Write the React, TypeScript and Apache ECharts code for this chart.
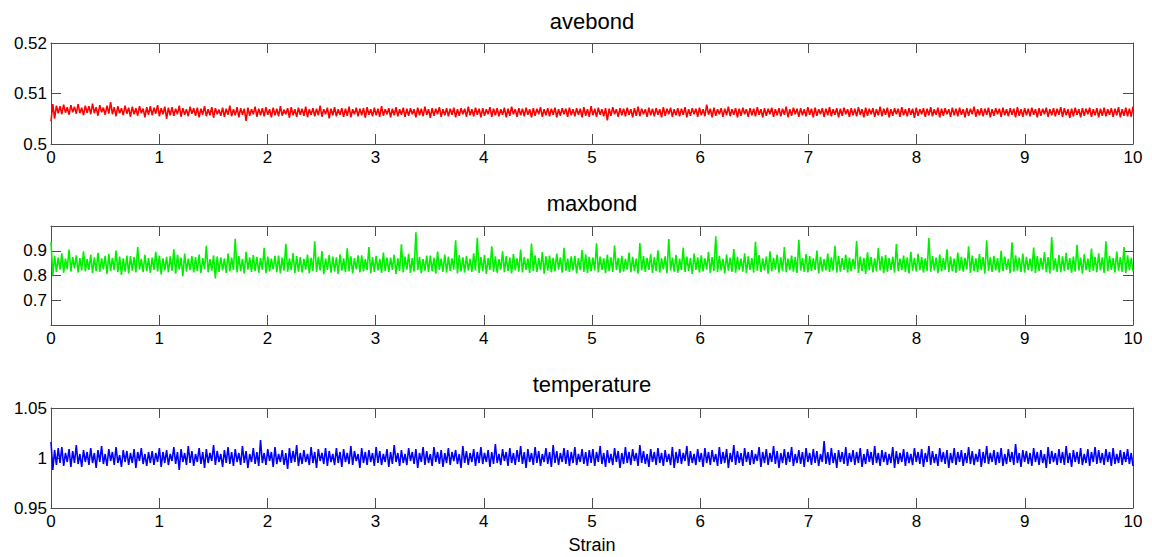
import React, { useEffect, useRef } from "react";
import * as echarts from "echarts";

const xTicks = [0, 1, 2, 3, 4, 5, 6, 7, 8, 9, 10];
const titles = ["avebond", "maxbond", "temperature"];
const xLabel = "Strain";

const avebond = [
  0.5045,0.5079,0.5050,0.5076,0.5061,0.5075,0.5059,0.5078,0.5062,0.5073,0.5058,0.5077,0.5063,0.5074,0.5060,0.5079,0.5061,0.5072,0.5057,0.5076,
  0.5062,0.5075,0.5059,0.5080,0.5061,0.5073,0.5056,0.5077,0.5063,0.5072,0.5058,0.5076,0.5060,0.5083,0.5059,0.5073,0.5055,0.5075,0.5061,0.5071,
  0.5057,0.5076,0.5060,0.5072,0.5054,0.5074,0.5059,0.5071,0.5056,0.5075,0.5061,0.5070,0.5053,0.5073,0.5058,0.5075,0.5057,0.5072,0.5060,0.5077,
  0.5055,0.5071,0.5059,0.5074,0.5050,0.5072,0.5057,0.5073,0.5056,0.5070,0.5059,0.5076,0.5054,0.5071,0.5058,0.5069,0.5055,0.5074,0.5060,0.5071,
  0.5056,0.5072,0.5053,0.5070,0.5058,0.5075,0.5055,0.5069,0.5057,0.5073,0.5052,0.5071,0.5059,0.5068,0.5056,0.5072,0.5054,0.5070,0.5058,0.5076,
  0.5055,0.5069,0.5057,0.5073,0.5053,0.5071,0.5058,0.5070,0.5046,0.5072,0.5056,0.5069,0.5059,0.5074,0.5054,0.5070,0.5057,0.5071,0.5055,0.5073,
  0.5058,0.5069,0.5053,0.5072,0.5057,0.5070,0.5055,0.5075,0.5056,0.5068,0.5059,0.5071,0.5052,0.5073,0.5057,0.5069,0.5054,0.5072,0.5058,0.5070,
  0.5056,0.5074,0.5053,0.5069,0.5058,0.5071,0.5055,0.5070,0.5057,0.5076,0.5054,0.5069,0.5059,0.5072,0.5051,0.5070,0.5057,0.5073,0.5055,0.5069,
  0.5058,0.5071,0.5054,0.5070,0.5056,0.5074,0.5053,0.5069,0.5059,0.5072,0.5055,0.5070,0.5057,0.5071,0.5052,0.5073,0.5058,0.5069,0.5055,0.5072,
  0.5057,0.5070,0.5054,0.5075,0.5056,0.5069,0.5059,0.5071,0.5053,0.5070,0.5057,0.5073,0.5055,0.5069,0.5058,0.5072,0.5054,0.5070,0.5056,0.5071,
  0.5059,0.5069,0.5053,0.5072,0.5057,0.5070,0.5055,0.5074,0.5058,0.5069,0.5052,0.5071,0.5056,0.5070,0.5059,0.5073,0.5054,0.5069,0.5057,0.5071,
  0.5055,0.5070,0.5058,0.5072,0.5053,0.5069,0.5056,0.5071,0.5059,0.5070,0.5054,0.5074,0.5057,0.5069,0.5055,0.5072,0.5058,0.5070,0.5053,0.5071,
  0.5056,0.5069,0.5059,0.5073,0.5054,0.5070,0.5057,0.5071,0.5055,0.5069,0.5058,0.5072,0.5053,0.5070,0.5056,0.5074,0.5059,0.5069,0.5054,0.5071,
  0.5057,0.5070,0.5055,0.5072,0.5058,0.5069,0.5053,0.5071,0.5056,0.5070,0.5059,0.5073,0.5054,0.5069,0.5057,0.5071,0.5055,0.5070,0.5058,0.5072,
  0.5053,0.5069,0.5056,0.5071,0.5059,0.5070,0.5054,0.5072,0.5057,0.5069,0.5055,0.5071,0.5058,0.5070,0.5053,0.5073,0.5056,0.5069,0.5054,0.5075,
  0.5057,0.5070,0.5054,0.5072,0.5058,0.5069,0.5055,0.5071,0.5047,0.5070,0.5056,0.5073,0.5059,0.5069,0.5054,0.5071,0.5057,0.5070,0.5055,0.5072,
  0.5058,0.5069,0.5053,0.5071,0.5056,0.5074,0.5055,0.5070,0.5059,0.5069,0.5054,0.5072,0.5057,0.5070,0.5055,0.5071,0.5058,0.5069,0.5053,0.5073,
  0.5056,0.5070,0.5059,0.5072,0.5054,0.5069,0.5057,0.5071,0.5055,0.5070,0.5058,0.5073,0.5053,0.5069,0.5056,0.5071,0.5059,0.5070,0.5054,0.5072,
  0.5057,0.5069,0.5055,0.5078,0.5058,0.5070,0.5053,0.5072,0.5056,0.5069,0.5059,0.5071,0.5054,0.5070,0.5057,0.5074,0.5055,0.5069,0.5058,0.5071,
  0.5053,0.5070,0.5056,0.5072,0.5059,0.5069,0.5054,0.5071,0.5057,0.5070,0.5055,0.5073,0.5058,0.5069,0.5053,0.5071,0.5056,0.5070,0.5059,0.5072,
  0.5054,0.5069,0.5057,0.5071,0.5055,0.5070,0.5058,0.5074,0.5053,0.5069,0.5056,0.5072,0.5059,0.5070,0.5054,0.5071,0.5057,0.5069,0.5055,0.5073,
  0.5058,0.5070,0.5053,0.5072,0.5056,0.5069,0.5059,0.5071,0.5054,0.5070,0.5057,0.5073,0.5055,0.5069,0.5058,0.5071,0.5053,0.5070,0.5056,0.5072,
  0.5059,0.5069,0.5054,0.5071,0.5057,0.5070,0.5055,0.5073,0.5058,0.5069,0.5053,0.5072,0.5056,0.5070,0.5059,0.5071,0.5054,0.5069,0.5057,0.5074,
  0.5055,0.5070,0.5058,0.5072,0.5053,0.5069,0.5056,0.5071,0.5059,0.5070,0.5054,0.5073,0.5057,0.5069,0.5055,0.5071,0.5058,0.5070,0.5052,0.5072,
  0.5056,0.5069,0.5059,0.5071,0.5054,0.5070,0.5057,0.5073,0.5055,0.5069,0.5058,0.5072,0.5053,0.5070,0.5056,0.5071,0.5059,0.5069,0.5054,0.5072,
  0.5057,0.5070,0.5055,0.5072,0.5058,0.5069,0.5053,0.5071,0.5056,0.5070,0.5059,0.5074,0.5054,0.5069,0.5057,0.5071,0.5055,0.5070,0.5058,0.5072,
  0.5053,0.5069,0.5056,0.5071,0.5059,0.5070,0.5054,0.5072,0.5057,0.5069,0.5055,0.5071,0.5058,0.5070,0.5053,0.5073,0.5056,0.5069,0.5054,0.5071,
  0.5057,0.5070,0.5055,0.5072,0.5058,0.5069,0.5053,0.5071,0.5056,0.5070,0.5059,0.5072,0.5054,0.5069,0.5057,0.5071,0.5055,0.5070,0.5058,0.5073,
  0.5054,0.5071,0.5057,0.5069,0.5052,0.5070,0.5055,0.5072,0.5058,0.5069,0.5053,0.5071,0.5056,0.5070,0.5059,0.5072,0.5054,0.5069,0.5057,0.5071,
  0.5053,0.5070,0.5056,0.5072,0.5055,0.5069,0.5058,0.5071,0.5054,0.5070,0.5057,0.5073,0.5053,0.5069,0.5056,0.5072,0.5055,0.5070,0.5054,0.5074,
];

const maxbond = [
  0.935,0.800,0.880,0.815,0.872,0.824,0.890,0.811,0.868,0.826,0.905,0.816,0.874,0.829,0.881,0.812,0.870,0.821,0.898,0.817,
  0.866,0.823,0.884,0.809,0.873,0.818,0.892,0.815,0.869,0.825,0.879,0.806,0.887,0.819,0.871,0.822,0.901,0.813,0.876,0.802,
  0.869,0.816,0.880,0.808,0.878,0.820,0.874,0.812,0.915,0.824,0.867,0.814,0.883,0.818,0.870,0.810,0.872,0.823,0.896,0.816,
  0.880,0.804,0.869,0.821,0.875,0.813,0.877,0.819,0.906,0.807,0.884,0.824,0.872,0.797,0.889,0.816,0.868,0.822,0.878,0.812,
  0.874,0.818,0.885,0.809,0.870,0.826,0.920,0.813,0.866,0.820,0.881,0.788,0.877,0.815,0.873,0.821,0.869,0.810,0.889,0.817,
  0.872,0.822,0.948,0.812,0.878,0.818,0.867,0.807,0.896,0.824,0.873,0.814,0.882,0.819,0.875,0.811,0.870,0.823,0.912,0.809,
  0.876,0.817,0.868,0.825,0.879,0.813,0.880,0.808,0.872,0.820,0.928,0.815,0.869,0.822,0.891,0.810,0.878,0.816,0.874,0.812,
  0.867,0.824,0.884,0.809,0.871,0.819,0.938,0.814,0.875,0.821,0.899,0.805,0.868,0.823,0.882,0.811,0.876,0.817,0.873,0.806,
  0.886,0.820,0.869,0.813,0.910,0.818,0.877,0.808,0.870,0.825,0.881,0.812,0.881,0.817,0.866,0.822,0.915,0.809,0.874,0.815,
  0.879,0.821,0.867,0.811,0.893,0.818,0.872,0.814,0.872,0.823,0.884,0.806,0.869,0.819,0.926,0.812,0.876,0.824,0.888,0.810,
  0.870,0.816,0.975,0.822,0.875,0.809,0.866,0.820,0.880,0.813,0.880,0.818,0.871,0.807,0.897,0.823,0.868,0.815,0.885,0.811,
  0.876,0.819,0.869,0.824,0.942,0.808,0.882,0.817,0.873,0.812,0.879,0.821,0.867,0.814,0.890,0.820,0.952,0.810,0.874,0.818,
  0.883,0.806,0.870,0.822,0.918,0.815,0.877,0.811,0.866,0.824,0.898,0.813,0.878,0.819,0.872,0.808,0.887,0.821,0.869,0.816,
  0.905,0.812,0.875,0.823,0.868,0.810,0.929,0.818,0.881,0.814,0.870,0.822,0.895,0.807,0.877,0.820,0.880,0.813,0.871,0.817,
  0.889,0.824,0.873,0.811,0.912,0.819,0.868,0.815,0.877,0.821,0.879,0.808,0.870,0.822,0.903,0.814,0.886,0.810,0.875,0.818,
  0.872,0.820,0.930,0.812,0.876,0.823,0.869,0.809,0.884,0.818,0.873,0.814,0.921,0.822,0.870,0.811,0.879,0.816,0.867,0.824,
  0.893,0.813,0.875,0.819,0.868,0.807,0.931,0.821,0.878,0.815,0.871,0.823,0.886,0.810,0.874,0.818,0.902,0.812,0.869,0.825,
  0.877,0.809,0.947,0.820,0.872,0.816,0.883,0.811,0.868,0.822,0.913,0.814,0.876,0.819,0.870,0.806,0.889,0.823,0.873,0.812,
  0.881,0.817,0.869,0.824,0.896,0.810,0.874,0.818,0.958,0.813,0.879,0.821,0.867,0.808,0.885,0.820,0.872,0.815,0.907,0.811,
  0.875,0.822,0.868,0.816,0.890,0.809,0.877,0.823,0.870,0.812,0.936,0.819,0.882,0.814,0.869,0.821,0.876,0.807,0.898,0.817,
  0.871,0.824,0.884,0.811,0.873,0.818,0.915,0.813,0.868,0.822,0.880,0.816,0.874,0.810,0.944,0.820,0.870,0.815,0.887,0.812,
  0.878,0.819,0.869,0.823,0.901,0.808,0.875,0.817,0.866,0.821,0.889,0.814,0.873,0.820,0.920,0.811,0.879,0.816,0.870,0.823,
  0.884,0.812,0.872,0.818,0.867,0.825,0.939,0.810,0.876,0.819,0.871,0.806,0.894,0.822,0.874,0.813,0.869,0.817,0.911,0.821,
  0.877,0.809,0.883,0.815,0.870,0.823,0.875,0.811,0.927,0.818,0.868,0.822,0.880,0.814,0.873,0.808,0.896,0.820,0.871,0.816,
  0.888,0.822,0.874,0.812,0.869,0.819,0.951,0.815,0.878,0.821,0.872,0.809,0.885,0.817,0.870,0.823,0.906,0.813,0.876,0.818,
  0.868,0.811,0.893,0.820,0.875,0.816,0.871,0.824,0.918,0.810,0.880,0.818,0.869,0.813,0.887,0.822,0.874,0.807,0.942,0.819,
  0.873,0.815,0.879,0.821,0.870,0.812,0.900,0.818,0.876,0.823,0.867,0.809,0.934,0.816,0.881,0.820,0.872,0.814,0.889,0.811,
  0.875,0.822,0.868,0.817,0.913,0.810,0.878,0.819,0.871,0.824,0.895,0.813,0.874,0.808,0.955,0.821,0.869,0.815,0.883,0.812,
  0.877,0.818,0.892,0.823,0.870,0.811,0.876,0.816,0.924,0.820,0.872,0.807,0.886,0.822,0.868,0.814,0.909,0.819,0.875,0.813,
  0.890,0.821,0.873,0.810,0.938,0.817,0.879,0.823,0.870,0.812,0.897,0.819,0.874,0.815,0.915,0.809,0.881,0.822,0.871,0.817,
];

const temperature = [
  1.016,0.988,1.008,0.993,1.010,0.995,1.011,0.992,1.005,0.996,1.009,0.991,1.007,0.995,1.013,0.994,1.004,0.991,1.008,0.996,
  1.006,0.993,1.010,0.995,1.005,0.990,1.008,0.996,1.012,0.994,1.004,0.992,1.009,0.997,1.006,0.993,1.011,0.995,1.003,0.991,
  1.008,0.996,1.007,0.993,1.005,0.995,1.009,0.990,1.006,0.997,1.010,0.994,1.004,0.992,1.006,0.995,1.007,0.993,1.005,0.996,
  1.010,0.991,1.006,0.995,1.008,0.993,1.004,0.997,1.011,0.994,1.006,0.988,1.009,0.996,1.005,0.993,1.012,0.995,1.007,0.992,
  1.004,0.996,1.010,0.994,1.006,0.990,1.009,0.995,1.005,0.997,1.013,0.993,1.007,0.996,1.004,0.991,1.008,0.995,1.011,0.994,
  1.006,0.992,1.009,0.996,1.005,0.993,1.012,0.995,1.007,0.990,1.004,0.996,1.010,0.994,1.006,0.992,1.018,0.995,1.005,0.993,
  1.009,0.997,1.006,0.991,1.011,0.994,1.004,0.996,1.008,0.993,1.005,0.989,1.010,0.995,1.007,0.996,1.013,0.992,1.005,0.994,
  1.008,0.996,1.004,0.993,1.011,0.995,1.006,0.990,1.009,0.997,1.005,0.994,1.010,0.992,1.007,0.996,1.004,0.993,1.010,0.995,
  1.006,0.991,1.009,0.996,1.005,0.994,1.012,0.993,1.007,0.997,1.004,0.990,1.010,0.995,1.006,0.993,1.008,0.996,1.005,0.992,
  1.011,0.995,1.007,0.993,1.004,0.996,1.009,0.991,1.006,0.994,1.013,0.996,1.005,0.992,1.008,0.995,1.004,0.993,1.010,0.997,
  1.006,0.994,1.009,0.990,1.005,0.996,1.011,0.993,1.007,0.995,1.004,0.992,1.011,0.996,1.006,0.994,1.008,0.991,1.005,0.995,
  1.010,0.993,1.006,0.997,1.008,0.994,1.004,0.990,1.012,0.995,1.007,0.993,1.005,0.996,1.009,0.992,1.006,0.995,1.011,0.994,
  1.005,0.996,1.008,0.991,1.006,0.994,1.014,0.995,1.004,0.993,1.009,0.997,1.006,0.992,1.010,0.995,1.005,0.993,1.008,0.996,
  1.012,0.994,1.006,0.990,1.009,0.996,1.005,0.993,1.011,0.995,1.007,0.992,1.004,0.996,1.010,0.994,1.006,0.991,1.013,0.995,
  1.007,0.993,1.005,0.996,1.010,0.994,1.008,0.992,1.006,0.995,1.011,0.993,1.004,0.996,1.009,0.994,1.006,0.992,1.008,0.995,
  1.009,0.992,1.006,0.996,1.012,0.994,1.005,0.991,1.008,0.995,1.004,0.993,1.010,0.996,1.007,0.990,1.005,0.994,1.011,0.995,
  1.006,0.993,1.009,0.997,1.005,0.992,1.013,0.995,1.007,0.994,1.004,0.991,1.009,0.996,1.006,0.993,1.010,0.995,1.005,0.992,
  1.008,0.996,1.004,0.993,1.011,0.990,1.006,0.995,1.009,0.994,1.005,0.997,1.012,0.992,1.007,0.995,1.004,0.993,1.009,0.996,
  1.005,0.991,1.010,0.995,1.006,0.993,1.008,0.996,1.004,0.992,1.011,0.994,1.006,0.995,1.009,0.990,1.005,0.996,1.013,0.993,
  1.007,0.995,1.005,0.992,1.010,0.996,1.006,0.993,1.008,0.994,1.004,0.997,1.011,0.991,1.006,0.995,1.009,0.993,1.005,0.996,
  1.012,0.994,1.007,0.990,1.005,0.995,1.009,0.993,1.006,0.996,1.011,0.992,1.004,0.995,1.008,0.994,1.006,0.991,1.010,0.996,
  1.005,0.993,1.009,0.995,1.007,0.992,1.004,0.996,1.017,0.994,1.006,0.993,1.010,0.995,1.005,0.990,1.008,0.996,1.006,0.994,
  1.011,0.992,1.005,0.996,1.008,0.993,1.006,0.995,1.010,0.991,1.004,0.994,1.009,0.996,1.006,0.993,1.012,0.995,1.005,0.992,
  1.008,0.996,1.006,0.993,1.004,0.995,1.011,0.990,1.007,0.994,1.005,0.996,1.009,0.992,1.006,0.995,1.004,0.993,1.010,0.996,
  1.006,0.994,1.009,0.991,1.005,0.996,1.012,0.993,1.007,0.995,1.004,0.992,1.010,0.996,1.006,0.994,1.008,0.990,1.005,0.995,
  1.010,0.993,1.006,0.996,1.008,0.992,1.005,0.995,1.011,0.994,1.007,0.993,1.004,0.996,1.009,0.991,1.006,0.995,1.012,0.994,
  1.005,0.996,1.008,0.993,1.006,0.995,1.010,0.992,1.004,0.994,1.009,0.996,1.006,0.993,1.014,0.995,1.005,0.991,1.008,0.996,
  1.007,0.994,1.005,0.992,1.010,0.996,1.006,0.993,1.008,0.995,1.004,0.990,1.011,0.994,1.007,0.996,1.005,0.993,1.009,0.995,
  1.006,0.993,1.012,0.995,1.005,0.991,1.008,0.996,1.006,0.994,1.010,0.993,1.004,0.995,1.009,0.992,1.006,0.996,1.011,0.994,
  1.008,0.995,1.005,0.993,1.009,0.996,1.006,0.992,1.010,0.994,1.004,0.995,1.008,0.993,1.006,0.996,1.009,0.994,1.005,0.992,
];

const FONT = "'Liberation Sans', Arial, Helvetica, sans-serif";
const AXIS_COLOR = "#4d4d4d";
const TICK_LEN = 10;

const toPairs = (vals: number[]) =>
  vals.map((v, i) => [(i * (xTicks[xTicks.length - 1] - xTicks[0])) / (vals.length - 1) + xTicks[0], v]);

export default function App() {
  const ref = useRef<HTMLDivElement>(null);

  useEffect(() => {
    if (!ref.current) return;
    const chart = echarts.init(ref.current, undefined, { renderer: "svg" });

    const grids = [
      { left: 51, right: 19, top: 43, height: 101 },
      { left: 51, right: 19, top: 226, height: 99 },
      { left: 51, right: 19, top: 408, height: 100 },
    ];
    const yConf = [
      { min: 0.5, max: 0.52, interval: 0.01, fmt: (v: number) => String(Number(v.toFixed(2))) },
      {
        min: 0.6, max: 1.0, interval: 0.1,
        fmt: (v: number) => (v < 0.65 || v > 0.95 ? "" : String(Number(v.toFixed(1)))),
      },
      { min: 0.95, max: 1.05, interval: 0.05, fmt: (v: number) => String(Number(v.toFixed(2))) },
    ];
    const seriesData = [avebond, maxbond, temperature];
    const colors = ["#ff0000", "#00f000", "#0000ff"];

    const xAxes: any[] = [];
    const yAxes: any[] = [];
    const series: any[] = [];

    grids.forEach((g, i) => {
      const xBase = {
        gridIndex: i,
        type: "value",
        min: xTicks[0],
        max: xTicks[xTicks.length - 1],
        interval: 1,
        splitLine: { show: false },
        axisLine: { show: true, onZero: false, lineStyle: { color: AXIS_COLOR, width: 1 } },
        axisTick: { show: true, inside: true, length: TICK_LEN, lineStyle: { color: AXIS_COLOR } },
      };
      xAxes.push({
        ...xBase,
        position: "bottom",
        axisLabel: {
          show: true,
          margin: 5,
          color: "#000",
          fontSize: 17,
          fontFamily: FONT,
          formatter: (v: number) => String(v),
        },
      });
      xAxes.push({ ...xBase, position: "top", axisLabel: { show: false } });

      const yc = yConf[i];
      const yBase = {
        gridIndex: i,
        type: "value",
        min: yc.min,
        max: yc.max,
        interval: yc.interval,
        splitLine: { show: false },
        axisLine: { show: true, onZero: false, lineStyle: { color: AXIS_COLOR, width: 1 } },
        axisTick: { show: true, inside: true, length: TICK_LEN, lineStyle: { color: AXIS_COLOR } },
      };
      yAxes.push({
        ...yBase,
        position: "left",
        axisLabel: {
          show: true,
          margin: 4,
          color: "#000",
          fontSize: 17,
          fontFamily: FONT,
          formatter: yc.fmt,
        },
      });
      yAxes.push({ ...yBase, position: "right", axisLabel: { show: false } });

      series.push({
        type: "line",
        name: titles[i],
        xAxisIndex: i * 2,
        yAxisIndex: i * 2,
        data: toPairs(seriesData[i]),
        showSymbol: false,
        symbol: "none",
        lineStyle: { color: colors[i], width: 1.6 },
        itemStyle: { color: colors[i] },
        clip: true,
      });
    });

    const centerX = 51 + (1152 - 51 - 19) / 2;
    const txt = (text: string, y: number, size: number) => ({
      type: "text",
      x: centerX,
      y,
      style: { text, fontSize: size, fontFamily: FONT, fill: "#000", align: "center", verticalAlign: "middle" },
    });

    chart.setOption({
      animation: false,
      backgroundColor: "#ffffff",
      grid: grids,
      xAxis: xAxes,
      yAxis: yAxes,
      series,
      graphic: [
        txt(titles[0], 21, 22),
        txt(titles[1], 203, 22),
        txt(titles[2], 384, 22),
        txt(xLabel, 545, 18),
      ],
    });

    return () => chart.dispose();
  }, []);

  return (
    <div
      ref={ref}
      style={{ position: "fixed", left: 0, top: 0, width: 1152, height: 557, background: "#fff" }}
    />
  );
}
